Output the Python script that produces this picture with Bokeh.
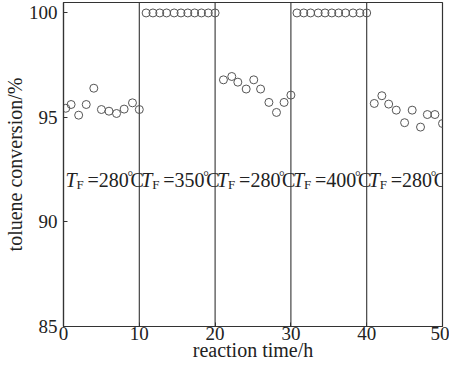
from bokeh.plotting import figure
from bokeh.models import ColumnDataSource, FixedTicker, Range1d
from bokeh.core.properties import value
from bokeh.embed import file_html
from bokeh.resources import INLINE

# ---- data ----
time_h = [0.3, 1, 2, 3, 4, 5, 6, 7, 8, 9.1, 10,
          10.9, 11.8, 12.7, 13.6, 14.6, 15.5, 16.4, 17.3, 18.2, 19.1, 20.0,
          21.1, 22.2, 23.0, 24.1, 25.1, 26.0, 27.1, 28.1, 29.1, 30.0,
          30.8, 31.7, 32.6, 33.6, 34.5, 35.4, 36.3, 37.2, 38.2, 39.1, 40.0,
          41.0, 42.0, 42.9, 43.9, 45.0, 46.0, 47.1, 48.0, 49.0, 50.0]
conversion_pct = [95.44, 95.62, 95.11, 95.62, 96.40, 95.38, 95.30, 95.19, 95.40, 95.70, 95.38,
                  100, 100, 100, 100, 100, 100, 100, 100, 100, 100, 100,
                  96.80, 96.96, 96.69, 96.36, 96.80, 96.36, 95.72, 95.24, 95.72, 96.07,
                  100, 100, 100, 100, 100, 100, 100, 100, 100, 100, 100,
                  95.67, 96.04, 95.64, 95.35, 94.75, 95.35, 94.54, 95.14, 95.14, 94.71]
switch_times = [10, 20, 30, 40]
segment_starts = [0, 10, 20, 30, 40]
furnace_temps = ["280", "350", "280", "400", "280"]
annot_y = [92.0] * 5
x_ticks = [0, 10, 20, 30, 40, 50]
y_ticks = [85, 90, 95, 100]

FONT = "Liberation Serif"
INK = "#222222"

p = figure(width=449, height=363, output_backend="svg", toolbar_location=None,
           x_range=Range1d(0, 50), y_range=Range1d(85, 100.5),
           min_border_left=56, min_border_right=7, min_border_top=2, min_border_bottom=30)
p.title.visible = False

p.xgrid.visible = False
p.ygrid.visible = False
p.outline_line_color = "#333333"
p.outline_line_width = 1.2
p.background_fill_color = "white"
p.border_fill_color = "white"

for ax in (p.xaxis[0], p.yaxis[0]):
    ax.axis_line_color = "#333333"
    ax.axis_line_width = 1.2
    ax.major_tick_line_color = "#333333"
    ax.major_tick_in = 4
    ax.major_tick_out = 0
    ax.minor_tick_line_color = None
    ax.major_label_text_font = FONT
    ax.major_label_text_font_size = "19px"
    ax.major_label_text_color = INK
    ax.axis_label_text_font = FONT
    ax.axis_label_text_font_size = "20px"
    ax.axis_label_text_font_style = "normal"
    ax.axis_label_text_color = INK
    ax.axis_label_standoff = 0

p.xaxis.ticker = FixedTicker(ticks=x_ticks)
p.yaxis.ticker = FixedTicker(ticks=y_ticks)
p.xaxis.major_label_standoff = 0
p.xaxis.axis_label_standoff = -4
p.yaxis.major_label_standoff = 6

p.yaxis.axis_label = "toluene conversion/%"
p.xaxis.axis_label = "reaction time/h"

# vertical switch lines
p.segment(x0=switch_times, y0=[85] * 4, x1=switch_times, y1=[100.5] * 4,
          line_color="#333333", line_width=1.1)

# data points
src = ColumnDataSource(dict(t=time_h, c=conversion_pct))
p.scatter("t", "c", source=src, marker="circle", size=8, fill_color=None,
          line_color="#555555", line_width=1)

# annotations T_F = xxx °C
asrc = ColumnDataSource(dict(x=segment_starts, y=annot_y,
                             T=["T"] * 5, F=["F"] * 5,
                             eq=["=" + t for t in furnace_temps],
                             deg=["°"] * 5, C=["C"] * 5))
common = dict(source=asrc, text_color=INK, text_font=value(FONT),
              text_baseline="alphabetic", text_align="left")
p.text("x", "y", text="T", x_offset=2, text_font_size="20px", text_font_style="italic", **common)
p.text("x", "y", text="F", x_offset=13, y_offset=4, text_font_size="13px", **common)
p.text("x", "y", text="eq", x_offset=24, text_font_size="20px", **common)
p.text("x", "y", text="deg", x_offset=64, y_offset=-4, text_font_size="14px", **common)
p.text("x", "y", text="C", x_offset=67, text_font_size="20px", **common)

open("out.html", "w").write(file_html(p, INLINE))
